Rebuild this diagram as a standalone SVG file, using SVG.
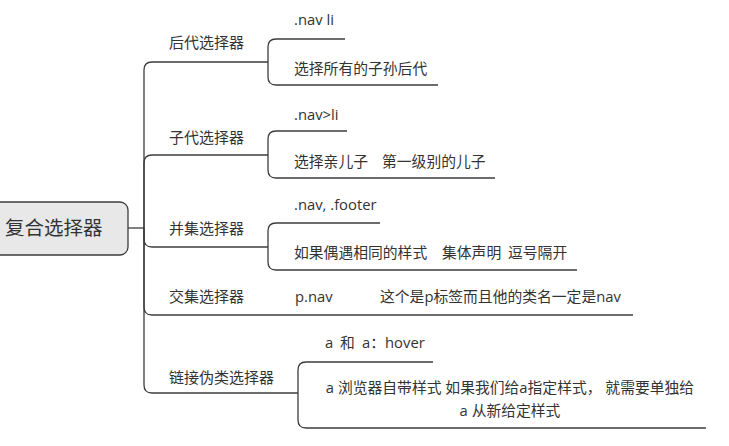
<svg xmlns="http://www.w3.org/2000/svg" width="729" height="446" viewBox="0 0 729 446">
<style>
.ln{fill:none;stroke:#3c3c3c;stroke-width:1.3}
.t{font-family:"Open Sans","Noto Sans CJK SC",sans-serif;font-size:14.8px;fill:#333}
.lb{font-family:"Open Sans","Noto Sans CJK SC",sans-serif;font-size:15px;fill:#333}
.rt{font-family:"Open Sans","Noto Sans CJK SC",sans-serif;font-size:19.5px;fill:#333}
</style>
<rect width="729" height="446" fill="#fff"/>
<g id="connectors">
<path class="ln" d="M128 228 H144"/>
<path class="ln" d="M144 228 V70 Q144 62 152 62 H268"/>
<path class="ln" d="M144 228 V163 Q144 155 152 155 H268"/>
<path class="ln" d="M144 228 V239 Q144 247 152 247 H268"/>
<path class="ln" d="M144 228 V307 Q144 315 152 315 H633"/>
<path class="ln" d="M144 228 V385 Q144 393 152 393 H298"/>
<path class="ln" d="M268 62 V47 Q268 39 276 39 H345 M268 62 V77 Q268 85 276 85 H438"/>
<path class="ln" d="M268 155 V139 Q268 131 276 131 H347 M268 155 V170 Q268 178 276 178 H495"/>
<path class="ln" d="M268 247 V231 Q268 223 276 223 H380 M268 247 V262 Q268 270 276 270 H577"/>
<path class="ln" d="M298 393 V370 Q298 362 306 362 H433 M298 393 V420 Q298 428 306 428 H706"/>
</g>
<g id="root">
<rect x="-12" y="202" width="140" height="53" rx="8" fill="#e8e8e8" stroke="#3c3c3c" stroke-width="1.3"/>
<text class="rt" x="5" y="235">复合选择器</text>
</g>
<g id="n1"><text class="lb" x="169" y="48">后代选择器</text></g>
<g id="n1a"><text class="t" x="294" y="25">.nav li</text></g>
<g id="n1b"><text class="t" x="294" y="74">选择所有的子孙后代</text></g>
<g id="n2"><text class="lb" x="169" y="143">子代选择器</text></g>
<g id="n2a"><text class="t" x="294" y="120">.nav&gt;li</text></g>
<g id="n2b"><text class="t" x="294" y="167">选择亲儿子<tspan x="382">第一级别的儿子</tspan></text></g>
<g id="n3"><text class="lb" x="169" y="234">并集选择器</text></g>
<g id="n3a"><text class="t" x="294" y="210">.nav, .footer</text></g>
<g id="n3b"><text class="t" x="294" y="258">如果偶遇相同的样式<tspan x="442">集体声明</tspan><tspan x="508">逗号隔开</tspan></text></g>
<g id="n4"><text class="lb" x="169" y="302">交集选择器</text></g>
<g id="n4a"><text class="t" x="295" y="302">p.nav</text></g>
<g id="n4b"><text class="t" x="380" y="302">这个是p标签而且他的类名一定是nav</text></g>
<g id="n5"><text class="lb" x="169" y="383">链接伪类选择器</text></g>
<g id="n5a"><text class="t" x="325" y="348">a<tspan x="340">和</tspan><tspan x="362">a：hover</tspan></text></g>
<g id="n5b"><text class="t" text-anchor="middle" x="510" y="393">a 浏览器自带样式 如果我们给a指定样式，  就需要单独给</text><text class="t" text-anchor="middle" x="510" y="416">a 从新给定样式</text></g>
</svg>
